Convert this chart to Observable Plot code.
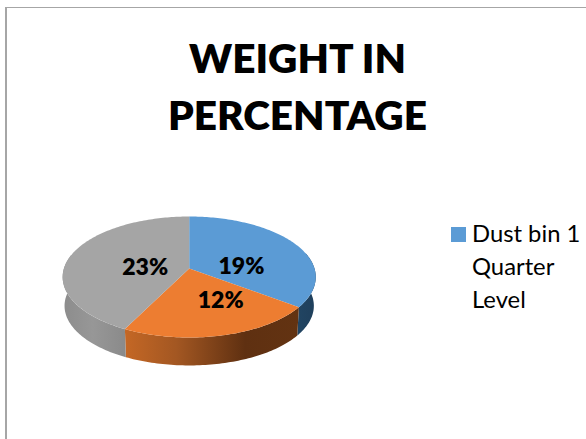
<!DOCTYPE html>
<html>
<head>
<meta charset="utf-8">
<script src="https://cdn.jsdelivr.net/npm/d3@7"></script>
<script src="https://cdn.jsdelivr.net/npm/@observablehq/plot@0.6"></script>
<style>
  html, body { margin: 0; padding: 0; background: #fff; }
  #chart { position: relative; width: 586px; height: 439px; overflow: hidden; font-family: Lato, "Open Sans", sans-serif; color: #000; }
  #frame { position: absolute; left: 5px; top: 7px; right: -3px; bottom: -3px; border-left: 2px solid #a6a6a6; border-top: 1px solid #a6a6a6; }
  #title { position: absolute; left: 0; top: 29px; width: 595px; margin: 0; text-align: center; font-weight: 800; font-size: 40.6px; line-height: 57px; }
  #legend { position: absolute; left: 451px; top: 217px; display: flex; align-items: flex-start; font-size: 23.8px; line-height: 33px; }
  #legend i { display: block; width: 15px; height: 15px; margin: 10px 6px 0 0; background: #5b9bd5; }
  svg { position: absolute; left: 0; top: 0; }
</style>
</head>
<body>
<div id="chart">
  <div id="frame"></div>
  <h1 id="title">WEIGHT IN<br>PERCENTAGE</h1>
  <div id="legend"><i></i><span>Dust bin 1<br>Quarter<br>Level</span></div>
</div>
<script>
// Slice values, clockwise from twelve o'clock
const slices = ["Slice 1", "Slice 2", "Slice 3"];
const weights = [19, 12, 23];
const labels = ["19%", "12%", "23%"];
const topColors = ["#5b9bd5", "#ed7d31", "#a5a5a5"];

// Pie placement: a tilted disc seen in perspective
const cx = 188.7, apexY = 268, radiusX = 125.3, radiusY = 59.3, perspective = 0.1405;
const depth = 29, bottomShrink = 0.985;

const project = (angle, r = 1, drop = 0, shrink = 1) => {
  const u = Math.sin(angle) * r, v = -Math.cos(angle) * r;
  const w = shrink / (1 - perspective * v);
  return {x: cx + radiusX * u * w, y: apexY + drop + radiusY * v * w};
};

const total = d3.sum(weights);
const ends = d3.cumsum(weights).map((d) => (d / total) * 2 * Math.PI);
const starts = ends.map((_, i) => (i ? ends[i - 1] : 0));

const arcAngles = (a0, a1) => {
  const n = Math.max(2, Math.ceil((a1 - a0) / 0.02));
  return d3.range(n + 1).map((i) => a0 + ((a1 - a0) * i) / n);
};

// Top faces: apex, then the rim of each sector
const faces = slices.flatMap((slice, i) => [
  {slice, x: cx, y: apexY},
  ...arcAngles(starts[i], ends[i]).map((a) => ({slice, ...project(a)}))
]);

// Front wall of a sector, limited to the part facing the viewer
const wallStart = 1.3, wallEnd = 4.95;
const walls = slices.map((slice, i) => {
  const a0 = Math.max(starts[i], wallStart), a1 = Math.min(ends[i], wallEnd);
  const rim = arcAngles(a0, a1);
  return [
    ...rim.map((a) => ({slice, ...project(a)})),
    ...rim.slice().reverse().map((a) => ({slice, ...project(a, 1, depth, bottomShrink)}))
  ];
});

// Label anchors sit on each sector's middle, nudged clear of the seams
const nudges = [[-2, 11], [16, 1], [16, 6]];
const labelRows = slices.map((slice, i) => {
  const p = project((starts[i] + ends[i]) / 2, 0.5);
  return {label: labels[i], x: p.x + nudges[i][0], y: p.y + nudges[i][1]};
});

const gradient = (id, stops) => () => {
  const g = d3.create("svg:linearGradient")
    .attr("id", id).attr("gradientUnits", "userSpaceOnUse")
    .attr("x1", cx - 127).attr("x2", cx + 127).attr("y1", 0).attr("y2", 0);
  stops.forEach(([o, c]) => g.append("stop").attr("offset", o).attr("stop-color", c));
  const defs = d3.create("svg:defs");
  defs.append(() => g.node());
  return defs.node();
};

const wallFills = ["url(#wall0)", "url(#wall1)", "url(#wall2)"];

const plot = Plot.plot({
  width: 586, height: 439, margin: 0,
  x: {domain: [0, 586], range: [0, 586], axis: null},
  y: {domain: [0, 439], range: [0, 439], axis: null},
  color: {domain: slices, range: topColors},
  style: {background: "transparent"},
  marks: [
    gradient("wall0", [[0, "#2a5578"], [0.85, "#234a6a"], [1, "#1f3f5b"]]),
    gradient("wall1", [[0.2, "#cc6b26"], [0.45, "#a35722"], [0.72, "#5f3011"], [1, "#643412"]]),
    gradient("wall2", [[0, "#8c8c8c"], [0.12, "#979797"], [0.25, "#8a8a8a"], [1, "#6a6a6a"]]),
    ...walls.map((w, i) => w.length ? Plot.line(w, {x: "x", y: "y", fill: wallFills[i], stroke: "none"}) : null),
    Plot.line(faces, {x: "x", y: "y", z: "slice", fill: "slice", stroke: "none"}),
    Plot.text(labelRows, {
      x: "x", y: "y", text: "label",
      fontSize: 23, fontWeight: 800, fontFamily: "Lato, 'Open Sans', sans-serif", fill: "#000"
    })
  ]
});
document.getElementById("chart").append(plot);
</script>
</body>
</html>
